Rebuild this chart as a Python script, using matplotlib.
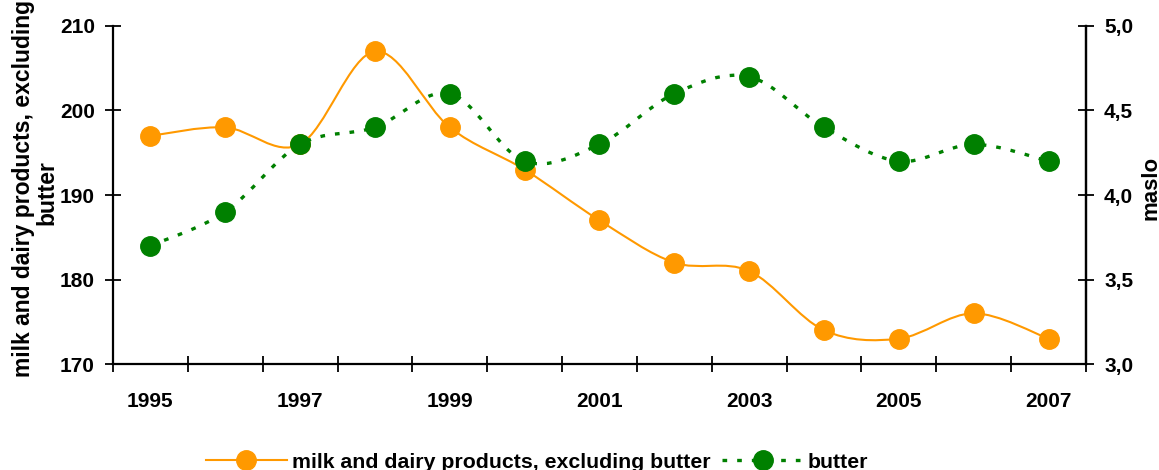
import matplotlib
matplotlib.use('Agg')
import matplotlib.pyplot as plt
from matplotlib.path import Path
from matplotlib.patches import PathPatch
from matplotlib.lines import Line2D
from matplotlib.ticker import FixedLocator, FuncFormatter

years = [1995, 1996, 1997, 1998, 1999, 2000, 2001, 2002, 2003, 2004, 2005, 2006, 2007]
milk = [197, 198, 196, 207, 198, 193, 187, 182, 181, 174, 173, 176, 173]
butter = [3.7, 3.9, 4.3, 4.4, 4.6, 4.2, 4.3, 4.6, 4.7, 4.4, 4.2, 4.3, 4.2]
milk_label = 'milk and dairy products, excluding butter'
butter_label = 'butter'

ORANGE = '#FF9900'
GREEN = '#008000'

plt.rcParams['font.family'] = ['Liberation Sans', 'DejaVu Sans']
plt.rcParams['font.weight'] = 'bold'
FS = 15
MS = 14
DASH = (0, (1.4, 3.0))


def smooth_path(xs, ys):
    # Bezier curve through every point, tangents from the neighbours
    pts = list(zip(xs, ys))
    n = len(pts)
    verts = [pts[0]]
    codes = [Path.MOVETO]
    for i in range(n - 1):
        p0 = pts[i - 1] if i > 0 else pts[i]
        p1 = pts[i]
        p2 = pts[i + 1]
        p3 = pts[i + 2] if i + 2 < n else pts[i + 1]
        c1 = (p1[0] + (p2[0] - p0[0]) / 6, p1[1] + (p2[1] - p0[1]) / 6)
        c2 = (p2[0] - (p3[0] - p1[0]) / 6, p2[1] - (p3[1] - p1[1]) / 6)
        verts += [c1, c2, p2]
        codes += [Path.CURVE4] * 3
    return Path(verts, codes)


fig = plt.figure(figsize=(11.59, 4.70), dpi=100)
ax = fig.add_axes([0.0975, 0.2255, 0.8395, 0.7192])
ax2 = ax.twinx()

xs = list(range(len(years)))

ax.add_patch(PathPatch(smooth_path(xs, milk), facecolor='none', edgecolor=ORANGE,
                       lw=1.5, capstyle='round', joinstyle='round'))
ax.plot(xs, milk, ls='none', marker='o', ms=MS, color=ORANGE, mec=ORANGE)

ax2.add_patch(PathPatch(smooth_path(xs, butter), facecolor='none', edgecolor=GREEN,
                        lw=2.4, ls=DASH))
ax2.plot(xs, butter, ls='none', marker='o', ms=MS, color=GREEN, mec=GREEN)

ax.set_xlim(-0.5, len(years) - 0.5)
ax.set_ylim(170, 210)
ax2.set_ylim(3.0, 5.0)
ax.set_yticks([170, 180, 190, 200, 210])
ax2.set_yticks([3.0, 3.5, 4.0, 4.5, 5.0])
ax2.yaxis.set_major_formatter(FuncFormatter(lambda v, p: f'{v:.1f}'.replace('.', ',')))

# tick marks on category boundaries, year labels on every other category
ax.xaxis.set_major_locator(FixedLocator([i - 0.5 for i in range(len(years) + 1)]))
ax.xaxis.set_major_formatter(FuncFormatter(lambda v, p: ''))
ax.xaxis.set_minor_locator(FixedLocator(xs[::2]))
ax.set_xticklabels([str(y) for y in years[::2]], minor=True)

for a in (ax, ax2):
    a.spines['top'].set_visible(False)
    for s in a.spines.values():
        s.set_linewidth(1.6)
        s.set_color('black')
ax2.spines['left'].set_visible(False)
ax2.spines['bottom'].set_visible(False)

ax.tick_params(axis='x', which='major', direction='inout', length=12, width=1.3)
ax.tick_params(axis='x', which='minor', length=0, pad=20, labelsize=FS)
ax.tick_params(axis='y', direction='inout', length=12, width=1.3, pad=7, labelsize=FS)
ax2.tick_params(axis='y', direction='inout', length=12, width=1.3, pad=7, labelsize=FS)
for lab in ax.get_xticklabels(minor=True) + ax.get_yticklabels() + ax2.get_yticklabels():
    lab.set_fontweight('bold')

W, H = 1159, 470
# left axis title runs past the top edge, as two separate lines
fig.text(24 / W, 1 - 188 / H, 'milk and dairy products, excluding', rotation=90,
         ha='center', va='center', fontsize=16.5, fontweight='bold')
fig.text(47 / W, 1 - 193 / H, 'butter', rotation=90,
         ha='center', va='center', fontsize=16.5, fontweight='bold')
fig.text(1141 / W, 1 - 188 / H, 'maslo', rotation=90, ha='left', va='center',
         fontsize=16, fontweight='bold')

handles = [
    Line2D([], [], color=ORANGE, lw=1.5, marker='o', ms=MS),
    Line2D([], [], color=GREEN, lw=2.4, ls=DASH, marker='o', ms=MS),
]
fig.legend(handles, [milk_label, butter_label], loc='center', ncol=2,
           bbox_to_anchor=(537 / W, 1 - 462 / H), frameon=False,
           handlelength=3.85, handletextpad=0.2, columnspacing=0.55,
           prop={'weight': 'bold', 'size': 15.3})

fig.savefig('out.png', dpi=100)
